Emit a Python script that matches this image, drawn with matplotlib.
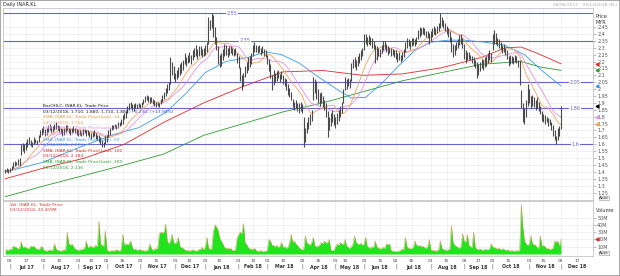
import numpy as np
import pandas as pd
import matplotlib
matplotlib.use("Agg")
import matplotlib.pyplot as plt
import matplotlib.transforms as mtransforms
from matplotlib.patches import Rectangle

# Bursa Malaysia market holidays inside the charted period
holidays = ["2017-08-31", "2017-09-01", "2017-09-04", "2017-09-22", "2017-10-18",
            "2017-12-01", "2017-12-25", "2018-01-01", "2018-01-31", "2018-02-01",
            "2018-02-16", "2018-05-01", "2018-05-09", "2018-05-10", "2018-05-11",
            "2018-05-29", "2018-06-15", "2018-08-22", "2018-08-31", "2018-09-11",
            "2018-09-17", "2018-11-06", "2018-11-20"]

# daily bars 28/06/2017 .. 03/12/2018
low = [1.39, 1.40, 1.39, 1.40, 1.41, 1.43, 1.44, 1.45,
       1.45, 1.44, 1.52, 1.55, 1.54, 1.56, 1.58, 1.60, 1.59, 1.58, 1.60, 1.61, 1.60, 1.62, 1.65,
       1.67, 1.68, 1.66, 1.67, 1.69, 1.70, 1.68, 1.69, 1.70, 1.71, 1.70, 1.69, 1.68, 1.66, 1.67,
       1.69, 1.70, 1.68, 1.67, 1.68, 1.69, 1.68, 1.67, 1.66, 1.67, 1.66, 1.67, 1.68, 1.66, 1.67,
       1.65, 1.64, 1.65, 1.66, 1.64, 1.63, 1.62, 1.60, 1.58, 1.58, 1.60, 1.62, 1.65, 1.67, 1.70,
       1.71, 1.72, 1.71, 1.72, 1.73, 1.74, 1.75, 1.78, 1.79, 1.83, 1.85, 1.86, 1.85, 1.84, 1.86,
       1.86, 1.87, 1.86, 1.87, 1.89, 1.91, 1.92, 1.91, 1.90, 1.91, 1.89, 1.88, 1.87, 1.88, 1.87,
       1.89, 1.91, 1.93, 1.95, 1.97, 1.99, 2.04, 2.10, 2.07, 2.05, 2.07, 2.09, 2.10, 2.12, 2.14,
       2.18, 2.17, 2.19, 2.20, 2.18, 2.21, 2.23, 2.24, 2.22, 2.24, 2.25, 2.23, 2.24, 2.25, 2.27,
       2.33, 2.43, 2.44, 2.38, 2.33, 2.28, 2.18, 2.16, 2.17, 2.21, 2.24, 2.25, 2.23, 2.25, 2.26,
       2.25, 2.24, 2.25, 2.19, 2.15, 2.06, 1.99, 2.02, 2.09, 2.12, 2.14, 2.16, 2.18, 2.24, 2.27,
       2.27, 2.26, 2.27, 2.25, 2.26, 2.24, 2.23, 2.18, 2.13, 2.08, 1.99, 2.03, 2.05, 2.06, 2.08,
       2.05, 2.07, 2.04, 2.02, 1.99, 1.96, 1.94, 1.92, 1.87, 1.85, 1.86, 1.84, 1.83, 1.84, 1.83,
       1.58, 1.62, 1.68, 1.71, 1.74, 1.77, 1.92, 1.97, 1.93, 1.90, 1.88, 1.90, 1.87, 1.85, 1.80,
       1.65, 1.70, 1.73, 1.76, 1.74, 1.72, 1.75, 1.77, 1.80, 1.83, 1.90, 1.99, 2.00, 2.02, 2.01,
       2.06, 2.15, 2.16, 2.14, 2.17, 2.19, 2.21, 2.24, 2.28, 2.33, 2.31, 2.33, 2.32, 2.30, 2.29,
       2.19, 2.21, 2.24, 2.23, 2.26, 2.28, 2.29, 2.27, 2.25, 2.26, 2.24, 2.25, 2.23, 2.22, 2.20,
       2.21, 2.20, 2.21, 2.23, 2.27, 2.30, 2.31, 2.29, 2.31, 2.32, 2.31, 2.33, 2.36, 2.38, 2.39,
       2.40, 2.39, 2.38, 2.37, 2.33, 2.35, 2.38, 2.40, 2.39, 2.41, 2.42, 2.44, 2.46, 2.44, 2.42,
       2.40, 2.38, 2.34, 2.27, 2.23, 2.25, 2.28, 2.30, 2.32, 2.33, 2.30, 2.22, 2.19, 2.21, 2.22,
       2.21, 2.19, 2.17, 2.15, 2.08, 2.10, 2.13, 2.15, 2.14, 2.16, 2.17, 2.19, 2.21, 2.20, 2.28, 2.33,
       2.33, 2.31, 2.30, 2.28, 2.26, 2.27, 2.25, 2.22, 2.17, 2.18, 2.19, 2.18, 2.20, 2.19,
       2.16, 2.03, 1.86, 1.76, 1.75, 1.80, 1.88, 1.90, 1.86, 1.88, 1.87, 1.85, 1.86, 1.84, 1.82,
       1.77, 1.76, 1.75, 1.76, 1.73, 1.74, 1.70, 1.66, 1.63, 1.60, 1.63, 1.66, 1.71]

high = [1.42, 1.43, 1.42, 1.43, 1.44, 1.47, 1.48, 1.47,
        1.49, 1.50, 1.60, 1.61, 1.60, 1.62, 1.64, 1.65, 1.63, 1.62, 1.65, 1.64, 1.63, 1.67, 1.70,
        1.72, 1.73, 1.71, 1.72, 1.74, 1.75, 1.73, 1.73, 1.75, 1.76, 1.74, 1.73, 1.72, 1.71, 1.72,
        1.74, 1.74, 1.72, 1.71, 1.72, 1.73, 1.72, 1.71, 1.70, 1.70, 1.69, 1.71, 1.71, 1.70, 1.70,
        1.69, 1.68, 1.69, 1.70, 1.68, 1.67, 1.67, 1.65, 1.63, 1.62, 1.66, 1.67, 1.70, 1.72, 1.74,
        1.74, 1.75, 1.74, 1.76, 1.76, 1.78, 1.81, 1.83, 1.84, 1.88, 1.90, 1.91, 1.89, 1.89, 1.90,
        1.89, 1.90, 1.89, 1.91, 1.93, 1.95, 1.96, 1.95, 1.94, 1.94, 1.93, 1.92, 1.91, 1.91, 1.90,
        1.93, 1.96, 1.98, 2.01, 2.04, 2.05, 2.23, 2.20, 2.17, 2.12, 2.14, 2.16, 2.18, 2.20, 2.21,
        2.26, 2.23, 2.25, 2.27, 2.25, 2.28, 2.30, 2.32, 2.29, 2.31, 2.31, 2.29, 2.30, 2.32, 2.34,
        2.52, 2.50, 2.55, 2.54, 2.45, 2.38, 2.31, 2.25, 2.26, 2.29, 2.33, 2.32, 2.30, 2.31, 2.31,
        2.30, 2.29, 2.30, 2.26, 2.24, 2.16, 2.10, 2.12, 2.17, 2.20, 2.23, 2.24, 2.26, 2.32, 2.34,
        2.32, 2.31, 2.32, 2.30, 2.31, 2.29, 2.28, 2.25, 2.22, 2.18, 2.10, 2.14, 2.12, 2.13, 2.14,
        2.11, 2.13, 2.10, 2.08, 2.07, 2.04, 2.01, 1.98, 1.93, 1.91, 1.92, 1.90, 1.90, 1.91, 1.89,
        1.80, 1.72, 1.76, 1.80, 1.82, 1.85, 2.09, 2.07, 2.06, 2.00, 1.97, 1.98, 1.95, 1.92, 1.90,
        1.84, 1.80, 1.83, 1.85, 1.82, 1.80, 1.83, 1.85, 1.88, 1.91, 2.00, 2.09, 2.07, 2.08, 2.07,
        2.19, 2.22, 2.23, 2.21, 2.24, 2.26, 2.28, 2.30, 2.40, 2.40, 2.38, 2.39, 2.38, 2.37, 2.35,
        2.32, 2.31, 2.30, 2.29, 2.32, 2.35, 2.35, 2.33, 2.31, 2.30, 2.30, 2.29, 2.28, 2.28, 2.26,
        2.27, 2.25, 2.27, 2.29, 2.34, 2.37, 2.36, 2.35, 2.37, 2.37, 2.36, 2.38, 2.43, 2.45, 2.44,
        2.45, 2.44, 2.42, 2.42, 2.41, 2.42, 2.44, 2.46, 2.44, 2.46, 2.48, 2.55, 2.52, 2.50, 2.48,
        2.46, 2.44, 2.42, 2.38, 2.33, 2.32, 2.34, 2.36, 2.39, 2.40, 2.37, 2.33, 2.28, 2.27, 2.27,
        2.25, 2.24, 2.23, 2.21, 2.20, 2.18, 2.20, 2.22, 2.21, 2.23, 2.24, 2.26, 2.28, 2.26, 2.40, 2.43,
        2.41, 2.37, 2.36, 2.34, 2.32, 2.33, 2.30, 2.28, 2.24, 2.25, 2.24, 2.23, 2.25, 2.24,
        2.21, 2.21, 1.99, 1.90, 1.86, 1.92, 2.04, 2.00, 1.95, 1.96, 1.94, 1.92, 1.94, 1.91, 1.88,
        1.84, 1.82, 1.81, 1.80, 1.79, 1.78, 1.76, 1.74, 1.70, 1.66, 1.72, 1.73, 1.88]

# volume in millions
volume = [5, 6, 5, 7, 6, 11, 10, 9, 7, 8, 17, 9, 10, 9, 8, 7, 11, 10, 11, 8,
          7, 6, 8, 11, 6, 5, 4, 5, 6, 5, 6, 14, 7, 5, 5, 4, 5, 6, 5, 30,
          14, 12, 14, 10, 7, 6, 5, 6, 6, 7, 8, 18, 9, 10, 11, 9, 10, 12, 10, 45,
          14, 12, 10, 32, 6, 4, 4, 5, 4, 5, 6, 5, 4, 7, 27, 12, 14, 13, 14, 18,
          9, 6, 7, 5, 6, 6, 5, 5, 4, 5, 6, 14, 8, 5, 7, 7, 8, 28, 30, 29,
          30, 41, 18, 14, 18, 27, 16, 14, 17, 23, 10, 9, 8, 6, 5, 5, 4, 5, 6, 5,
          4, 5, 6, 7, 9, 6, 10, 23, 8, 7, 7, 30, 40, 37, 33, 22, 18, 14, 9, 8,
          8, 7, 8, 5, 5, 6, 22, 27, 30, 28, 42, 16, 13, 9, 7, 7, 6, 8, 5, 4,
          4, 5, 3, 4, 4, 5, 20, 18, 12, 12, 10, 12, 9, 11, 16, 9, 10, 8, 9, 15,
          27, 16, 18, 14, 12, 9, 7, 6, 7, 25, 15, 14, 12, 16, 23, 11, 10, 11, 12, 16,
          14, 18, 15, 16, 20, 6, 5, 5, 10, 14, 12, 16, 14, 13, 20, 11, 9, 8, 10, 14,
          25, 16, 14, 13, 15, 12, 14, 23, 10, 9, 8, 10, 9, 18, 10, 8, 7, 8, 9, 8,
          14, 13, 14, 5, 4, 4, 3, 4, 4, 5, 7, 6, 23, 10, 8, 7, 8, 9, 18, 12,
          11, 12, 10, 11, 9, 8, 10, 20, 6, 5, 5, 4, 5, 6, 18, 8, 6, 6, 5, 6,
          7, 39, 16, 12, 11, 9, 8, 10, 28, 18, 16, 27, 12, 10, 9, 30, 9, 7, 6, 7,
          6, 5, 7, 6, 6, 7, 14, 10, 9, 8, 7, 8, 6, 7, 7, 5, 6, 5, 4, 5,
          4, 4, 5, 4, 6, 68, 36, 18, 14, 12, 14, 25, 14, 13, 12, 9, 8, 25, 11, 12,
          10, 7, 8, 6, 7, 8, 18, 16, 18, 10, 20.409]

# longer moving averages (bar number, value)
sma50_at = [0, 24, 45, 68, 84, 101, 114, 126, 139, 153, 164, 174, 185, 197, 210, 218, 227, 237,
            247, 258, 268, 279, 289, 302, 314, 327, 339, 350]
sma50 = [1.40, 1.47, 1.57, 1.67, 1.72, 1.83, 1.97, 2.12, 2.20, 2.23, 2.27, 2.25, 2.19, 2.09, 1.99,
         1.935, 1.94, 2.04, 2.16, 2.28, 2.34, 2.355, 2.355, 2.34, 2.32, 2.25, 2.125, 2.023]
sma100_at = [0, 25, 50, 75, 100, 125, 150, 175, 200, 225, 250, 275, 300, 315, 325, 335, 350]
sma100 = [1.35, 1.43, 1.50, 1.60, 1.76, 1.90, 2.02, 2.125, 2.135, 2.10, 2.11, 2.155, 2.23, 2.30,
          2.305, 2.26, 2.184]
sma200_at = [0, 25, 50, 75, 100, 125, 150, 175, 200, 225, 250, 275, 300, 325, 337, 350]
sma200 = [1.22, 1.30, 1.375, 1.45, 1.53, 1.665, 1.75, 1.835, 1.90, 1.98, 2.06, 2.12, 2.18, 2.20,
          2.16, 2.136]

levels = [2.55, 2.35, 2.05, 1.86, 1.6]
level_text = ["2.55", "2.35", "2.05", "1.86", "1.6"]

legend_lines = [
    ("BarOHLC, INAR.KL, Trade Price", "#222222"),
    ("03/12/2018, 1.710, 1.880, 1.710, 1.880, ", "#222222"),
    ("SMA, INAR.KL, Trade Price(Last), 14", "#f0a050"),
    ("03/12/2018, 1.750", "#f0a050"),
    ("SMA, INAR.KL, Trade Price(Last), 21", "#e08ae0"),
    ("03/12/2018, 1.795", "#e08ae0"),
    ("SMA, INAR.KL, Trade Price(Last), 50", "#3a9be6"),
    ("03/12/2018, 2.023", "#3a9be6"),
    ("SMA, INAR.KL, Trade Price(Last), 100", "#e02828"),
    ("03/12/2018, 2.184", "#e02828"),
    ("SMA, INAR.KL, Trade Price(Last), 200", "#2f9a2f"),
    ("03/12/2018, 2.136", "#2f9a2f"),
]

c_bar = "#4a4a4a"
c_level = "#6464d4"
c14, c21, c50, c100, c200 = "#f3a45a", "#e692e2", "#3a9be6", "#e02828", "#2f9a2f"
grid_c = "#ececec"

W, H = 620, 276


def box(x0, y0, x1, y1):
    return [x0 / W, 1 - y1 / H, (x1 - x0) / W, (y1 - y0) / H]


days = pd.bdate_range("2017-06-28", "2019-01-31")
days = days[~days.isin(pd.to_datetime(holidays))]

x = np.arange(len(low))
lo = np.array(low)
hi = np.array(high)
mid = pd.Series((lo + hi) / 2)
sma14 = mid.rolling(14, min_periods=1).mean()
sma21 = mid.rolling(21, min_periods=1).mean()

# half-monthly tick positions on the trading-day axis
tick_pos, tick_lab, month_pos, month_lab = [], [], [], []
for m in pd.date_range("2017-07-01", "2019-01-01", freq="MS"):
    for d in (0, 14):
        wd = pd.bdate_range(m + pd.Timedelta(days=d), periods=1)[0]
        pos = days.searchsorted(wd)
        if d == 0:
            month_pos.append(pos)
            month_lab.append(m.strftime("%b %y"))
        if m < pd.Timestamp("2019-01-01"):
            tick_pos.append(pos)
            tick_lab.append(f"{wd.day:02d}")

fig = plt.figure(figsize=(6.2, 2.76), dpi=100)
ax = fig.add_axes(box(3, 8, 593, 200))
axv = fig.add_axes(box(3, 201, 593, 256), sharex=ax)

for a in (ax, axv):
    a.set_xticks(tick_pos)
    a.grid(True, color=grid_c, lw=0.5)
    a.set_axisbelow(True)
    a.tick_params(axis="x", length=0, labelbottom=False)
    a.yaxis.tick_right()
    a.tick_params(axis="y", length=2, width=0.4, color="#888888", labelsize=3.5,
                  labelcolor="#555555", pad=1)
    for s in a.spines.values():
        s.set_color("#c4c4c4")
        s.set_linewidth(0.6)

# price panel
yt = np.round(np.arange(1.25, 2.451, 0.05), 2)
ax.set_yticks(yt)
ax.set_yticklabels([f"{v:g}" for v in yt])
ax.set_ylim(1.196, 2.588)
ax.set_xlim(-1.4, 370.2)

for v in levels:
    ax.axhline(v, color=c_level, lw=0.8, zorder=2)

ax.plot(sma200_at, sma200, color=c200, lw=0.6, zorder=3)
ax.plot(sma100_at, sma100, color=c100, lw=0.6, zorder=3)
ax.plot(sma50_at, sma50, color=c50, lw=0.6, zorder=3)
ax.plot(x, sma21, color=c21, lw=0.6, zorder=3)
ax.plot(x, sma14, color=c14, lw=0.6, zorder=3)
ax.vlines(x, lo, hi, color=c_bar, lw=0.8, zorder=4)

label_at = [143, 151, 359, 359, 359]
for v, t, p in zip(levels, level_text, label_at):
    ax.text(p, v, t, ha="center", va="center", fontsize=3.5, color=c_level, zorder=5,
            bbox=dict(facecolor="white", edgecolor="none", pad=0.4))

ytr = mtransforms.blended_transform_factory(ax.transAxes, ax.transData)
for v, c in [(2.184, c100), (2.136, c200), (2.023, c50), (1.88, "black"), (1.795, c21), (1.75, c14)]:
    ax.plot(1.006, v, marker="<", ms=2.0, color=c, transform=ytr, clip_on=False, zorder=6)

for i, (txt, c) in enumerate(legend_lines):
    yy = 1 - (106 + 5.6 * i - 8) / 192
    t = ax.text(0.0678, yy, txt, transform=ax.transAxes, fontsize=3.2, color=c,
                va="center", ha="left", zorder=6)
    if i == 1:
        ax.annotate("+0.230, (+13.94%)", xy=(1, 0.5), xycoords=t, va="center", ha="left",
                    fontsize=3.2, color="#3050d0", zorder=6)

# volume panel
vx = np.arange(len(volume))
axv.fill_between(vx, volume, 0, color="#22e41c", lw=0, zorder=2)
axv.plot(vx, volume, color="#d08a4a", lw=0.3, zorder=3)
axv.set_ylim(-2.7, 72.6)
axv.set_yticks([10, 20, 30, 40, 50])
axv.set_yticklabels(["10M", "20M", "30M", "40M", "50M"])
vtr = mtransforms.blended_transform_factory(axv.transAxes, axv.transData)
axv.plot(1.006, 20.409, marker="<", ms=2.0, color="#e02828", transform=vtr, clip_on=False)
axv.text(0.012, 0.93, "Vol, INAR.KL, Trade Price", transform=axv.transAxes, fontsize=3.2,
         color="#d43a3a", va="center")
axv.text(0.012, 0.83, "03/12/2018, 20.409M", transform=axv.transAxes, fontsize=3.2,
         color="#d43a3a", va="center")

# date axis
ftr = mtransforms.blended_transform_factory(axv.transData, fig.transFigure)
for p, lab in zip(tick_pos, tick_lab):
    fig.text(p, 1 - 260.5 / H, lab, transform=ftr, fontsize=3.2, color="#444444",
             ha="center", va="center")
for j in range(len(month_pos) - 1):
    fig.text(month_pos[j], 1 - 266.5 / H, "|", transform=ftr, fontsize=3.4, color="#444444",
             ha="center", va="center")
    fig.text((month_pos[j] + month_pos[j + 1]) / 2, 1 - 267 / H, month_lab[j], transform=ftr,
             fontsize=3.4, fontweight="bold", color="#333333", ha="center", va="center")

# header and side labels
fig.text(3 / W, 1 - 4.5 / H, "Daily INAR.KL", fontsize=3.5, color="#222222", va="center")
fig.text(617 / W, 1 - 4.5 / H, "28/06/2017 - 03/12/2018 (KL)", fontsize=3.2,
         color="#a8a8a8", va="center", ha="right")
fig.text(596 / W, 1 - 16 / H, "Price", fontsize=3.5, color="#333333", va="center")
fig.text(596 / W, 1 - 22 / H, "MYR", fontsize=3.5, color="#333333", va="center")
fig.text(596 / W, 1 - 211 / H, "Volume", fontsize=3.5, color="#333333", va="center")
for yy in (198, 253):
    fig.text(599 / W, 1 - yy / H, "Auto", fontsize=3.0, color="#333333", va="center",
             bbox=dict(facecolor="#eeeeee", edgecolor="#999999", lw=0.4, pad=0.3))

fig.patches.append(Rectangle((0, 0), 1, 1, transform=fig.transFigure, fill=False,
                             edgecolor="#9a9a9a", lw=1.2))

fig.savefig("out.png", dpi=100)
